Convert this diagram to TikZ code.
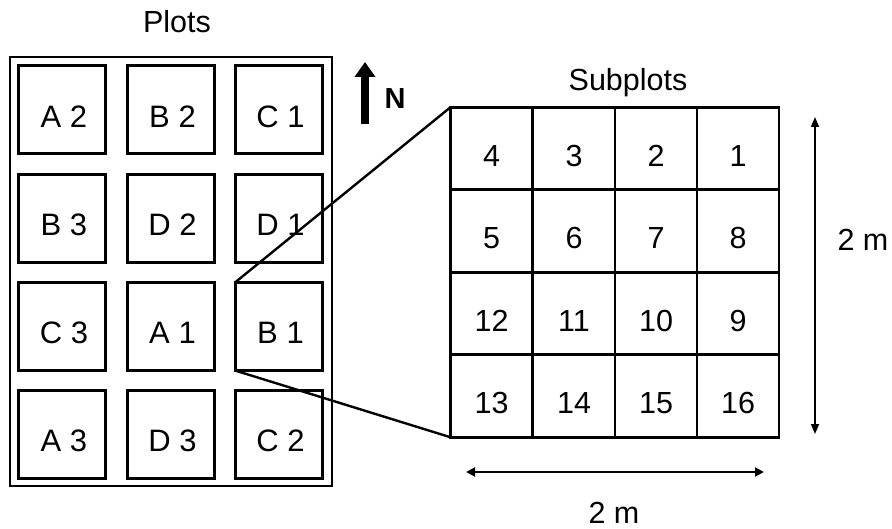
\documentclass[tikz,border=0pt]{standalone}
\usepackage{fontspec}
\setmainfont{Liberation Sans}
\usetikzlibrary{arrows.meta}
\begin{document}
\begin{tikzpicture}[x=1pt,y=-1pt,
  lbl/.style={font=\fontsize{30.5}{36}\selectfont,inner sep=0pt,anchor=base},
  plot/.style={draw,line width=3pt,outer sep=0pt,inner sep=0pt,minimum width=87pt,minimum height=88pt,
    text height=34.2pt,text depth=0pt,font=\fontsize{31}{36}\selectfont},
  cell/.style={draw,line width=2.6pt,outer sep=0pt,inner sep=0pt,minimum width=82pt,minimum height=82.5pt,
    text height=35.4pt,text depth=0pt,font=\fontsize{30.5}{36}\selectfont},
  zoomline/.style={line width=2.4pt},
  dim/.style={line width=2pt,{Triangle[width=9pt,length=9pt]}-{Triangle[width=9pt,length=9pt]}},
  vdim/.style={line width=1.6pt,{Triangle[width=8pt,length=10pt]}-{Triangle[width=8pt,length=10pt]}}]
\useasboundingbox (0,0) rectangle (892,529);
% outer plots frame
\node[draw,line width=2.6pt,outer sep=0pt,minimum width=322pt,minimum height=429pt] (frame) at (171,271.5) {};
\node[lbl] (plotstitle) at (177,33) {Plots};
% plots
\node[plot] (a2) at (62,110) {\hspace{4pt}A 2};
\node[plot] (b2) at (170.5,110) {\hspace{4pt}B 2};
\node[plot] (c1) at (278.5,110) {\hspace{4pt}C 1};
\node[plot] (b3) at (62,218.5) {\hspace{4pt}B 3};
\node[plot] (d2) at (170.5,218.5) {\hspace{4pt}D 2};
\node[plot] (d1) at (278.5,218.5) {\hspace{4pt}D 1};
\node[plot] (c3) at (62,326.5) {\hspace{4pt}C 3};
\node[plot] (a1) at (170.5,326.5) {\hspace{4pt}A 1};
\node[plot] (b1) at (278.5,326.5) {\hspace{4pt}B 1};
\node[plot] (a3) at (62,434.5) {\hspace{4pt}A 3};
\node[plot] (d3) at (170.5,434.5) {\hspace{4pt}D 3};
\node[plot] (c2) at (278.5,434.5) {\hspace{4pt}C 2};
% north arrow
\coordinate (ntail) at (365,124);
\coordinate (nhead) at (365,62);
\draw[line width=7.5pt,-{Triangle[width=20pt,length=15pt]}] (ntail) -- (nhead);
\node[lbl,font=\fontsize{29}{34}\selectfont\bfseries] (nlabel) at (395,109) {N};
% subplots
\node[lbl] (subtitle) at (628,91) {Subplots};
\node[cell] (c4) at (491.5,148.5) {4};
\node[cell] (c3s) at (574,148.5) {3};
\node[cell] (c2s) at (656,148.5) {2};
\node[cell] (c1s) at (738,148.5) {1};
\node[cell] (c5) at (491.5,231) {5};
\node[cell] (c6) at (574,231) {6};
\node[cell] (c7) at (656,231) {7};
\node[cell] (c8) at (738,231) {8};
\node[cell] (c12) at (491.5,313.5) {12};
\node[cell] (c11) at (574,313.5) {11};
\node[cell] (c10) at (656,313.5) {10};
\node[cell] (c9) at (738,313.5) {9};
\node[cell] (c13) at (491.5,396) {13};
\node[cell] (c14) at (574,396) {14};
\node[cell] (c15) at (656,396) {15};
\node[cell] (c16) at (738,396) {16};
% zoom lines
\draw[zoomline] (b1.north west) -- (c4.north west);
\draw[zoomline] (b1.south west) -- (c13.south west);
% dimensions
\coordinate (hl) at (466,472);
\coordinate (hr) at (764,472);
\draw[dim] (hl) -- (hr);
\node[lbl] (hlabel) at (614,523.5) {2 m};
\coordinate (vt) at (815,117);
\coordinate (vb) at (815,434);
\draw[vdim] (vt) -- (vb);
\node[lbl] (vlabel) at (863,251) {2 m};
\end{tikzpicture}
\end{document}
